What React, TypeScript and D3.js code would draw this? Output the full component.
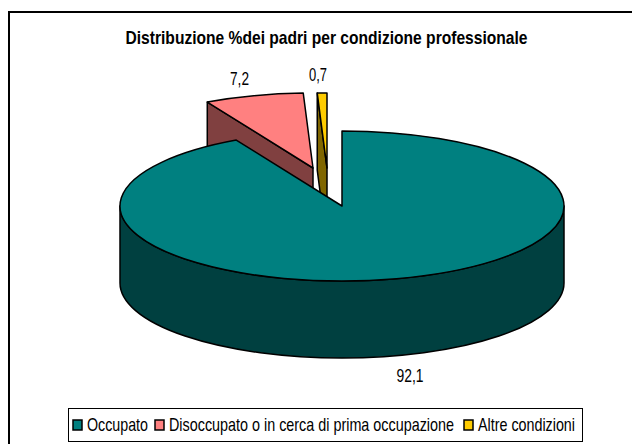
import React from 'react';
import * as d3 from 'd3';

const categories = ['Occupato', 'Disoccupato o in cerca di prima occupazione', 'Altre condizioni'];
const values = [92.1, 7.2, 0.7];
const valueLabels = ['92,1', '7,2', '0,7'];
const topColors = ['#008080', '#FF8080', '#FFCC00'];
const sideColors = ['#004040', '#804040', '#806600'];

const width = 632;
const height = 444;
const cx = 342;
const cy = 206;
const rx = 222;
const ry = 75;
const depth = 77;

// how far each slice is pulled out of the pie
const explode = [[0, 0], [-29, -38], [-15, -38]];
const labelPos = [[410, 382], [239.5, 85], [318, 81]];
const labelLen = [27, 19, 18];
const legendSwatchX = [73, 155, 464];
const legendTextX = [87, 169, 478];
const legendTextLen = [61, 285, 97];

const font = '"Liberation Sans", Arial, sans-serif';
// the reference text is tall and narrow: 14px glyphs stretched upwards
const stretch = 18 / 14;

const pie = d3.pie<number>().sort(null);
const slices = pie(values);

const point = (angle: number, dx: number, dy: number): [number, number] => [
  cx + dx + rx * Math.sin(angle),
  cy + dy - ry * Math.cos(angle),
];

const topPath = (i: number) => {
  const s = slices[i];
  const [dx, dy] = explode[i];
  const a = point(s.startAngle, dx, dy);
  const b = point(s.endAngle, dx, dy);
  const large = s.endAngle - s.startAngle > Math.PI ? 1 : 0;
  return `M${cx + dx},${cy + dy}L${a}A${rx},${ry} 0 ${large} 1 ${b}Z`;
};

// cut face on the left side of the exploded slices, the big slice hides its lower part
const cutPath = (i: number) => {
  const [dx, dy] = explode[i];
  const a = point(slices[i].startAngle, dx, dy);
  return `M${a}L${cx + dx},${cy + dy}L${cx + dx},${cy + dy + depth}L${a[0]},${a[1] + depth}Z`;
};

const wallPath = () => {
  const l = point(-Math.PI / 2, 0, 0);
  const r = point(Math.PI / 2, 0, 0);
  return `M${l}L${l[0]},${l[1] + depth}A${rx},${ry} 0 0 0 ${r[0]},${r[1] + depth}L${r}A${rx},${ry} 0 0 1 ${l}Z`;
};

export default function App() {
  return (
    <svg
      width={width}
      height={height}
      viewBox={`0 0 ${width} ${height}`}
      style={{ position: 'absolute', left: 0, top: 0, background: '#fff', fontFamily: font }}
    >
      <path d={`M9,${height}V12H${width}`} fill="none" stroke="#000" strokeWidth={2} />

      <text
        transform={`translate(326.5,44) scale(1,${stretch})`}
        textAnchor="middle"
        fontSize={14}
        fontWeight="bold"
        textLength={402}
        lengthAdjust="spacingAndGlyphs"
      >
        Distribuzione %dei padri per condizione professionale
      </text>

      <g stroke="#000" strokeWidth={1.5} strokeLinejoin="round">
        {[1, 2].map((i) => (
          <path key={`cut-${i}`} d={cutPath(i)} fill={sideColors[i]} />
        ))}
        {[1, 2].map((i) => (
          <path key={`top-${i}`} d={topPath(i)} fill={topColors[i]} />
        ))}
        <path d={wallPath()} fill={sideColors[0]} />
        <path d={topPath(0)} fill={topColors[0]} />
      </g>

      {valueLabels.map((d, i) => (
        <text
          key={d}
          transform={`translate(${labelPos[i][0]},${labelPos[i][1]}) scale(1,${stretch})`}
          textAnchor="middle"
          fontSize={14}
          textLength={labelLen[i]}
          lengthAdjust="spacingAndGlyphs"
        >
          {d}
        </text>
      ))}

      <rect x={68.5} y={408.5} width={514} height={33} fill="#fff" stroke="#000" strokeWidth={1} />
      {categories.map((d, i) => (
        <g key={d}>
          <rect x={legendSwatchX[i]} y={420} width={9} height={10} fill={topColors[i]} stroke="#000" strokeWidth={1.5} />
          <text
            transform={`translate(${legendTextX[i]},430.5) scale(1,${stretch})`}
            fontSize={14}
            textLength={legendTextLen[i]}
            lengthAdjust="spacingAndGlyphs"
          >
            {d}
          </text>
        </g>
      ))}
    </svg>
  );
}
